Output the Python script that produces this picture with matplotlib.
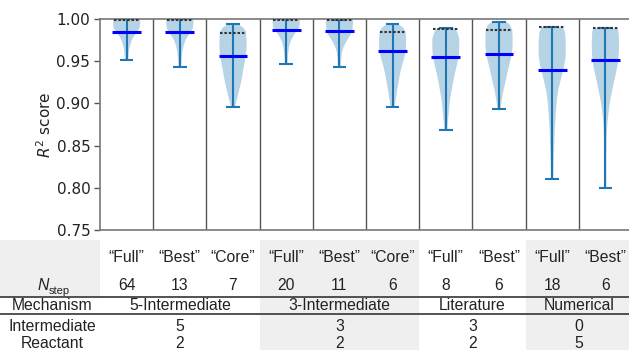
import matplotlib
matplotlib.use("Agg")
import matplotlib.pyplot as plt
from matplotlib.patches import Rectangle
from matplotlib.transforms import blended_transform_factory
import numpy as np

# ---------------- data ----------------
variants = ["\u201cFull\u201d", "\u201cBest\u201d", "\u201cCore\u201d",
            "\u201cFull\u201d", "\u201cBest\u201d", "\u201cCore\u201d",
            "\u201cFull\u201d", "\u201cBest\u201d",
            "\u201cFull\u201d", "\u201cBest\u201d"]
n_step = [64, 13, 7, 20, 11, 6, 8, 6, 18, 6]
mechanisms = ["5-Intermediate", "3-Intermediate", "Literature", "Numerical"]
mech_span = [(1, 3), (4, 6), (7, 8), (9, 10)]
intermediates = [5, 3, 3, 0]
reactants = [2, 2, 2, 5]

r2_mean = [0.985, 0.985, 0.9565, 0.9866, 0.9858, 0.962, 0.9546, 0.9585, 0.940, 0.951]
r2_median = [0.999, 0.999, 0.9834, 0.999, 0.999, 0.9842, 0.9885, 0.9873, 0.9905, 0.9897]
r2_max = [1.0, 0.9995, 0.9937, 0.9995, 0.999, 0.9937, 0.9897, 0.9968, 0.9905, 0.989]
r2_min = [0.951, 0.943, 0.896, 0.9467, 0.943, 0.8954, 0.869, 0.8937, 0.8108, 0.7994]

# violin outline: R2 levels and relative half-widths
profile_r2 = [
    [1.0, 0.995, 0.989, 0.985, 0.981, 0.977, 0.972, 0.968, 0.960, 0.951],
    [1.0, 0.995, 0.989, 0.983, 0.979, 0.975, 0.968, 0.960, 0.950, 0.943],
    [0.9937, 0.990, 0.985, 0.975, 0.965, 0.955, 0.945, 0.935, 0.925, 0.915, 0.905, 0.896],
    [1.0, 0.995, 0.990, 0.985, 0.979, 0.973, 0.967, 0.960, 0.952, 0.9467],
    [0.999, 0.995, 0.988, 0.981, 0.977, 0.973, 0.967, 0.960, 0.950, 0.943],
    [0.9937, 0.990, 0.985, 0.975, 0.965, 0.955, 0.945, 0.935, 0.925, 0.915, 0.905, 0.8954],
    [0.9897, 0.985, 0.977, 0.967, 0.957, 0.947, 0.937, 0.926, 0.916, 0.906, 0.896, 0.886, 0.877, 0.869],
    [0.9968, 0.993, 0.987, 0.977, 0.967, 0.957, 0.947, 0.937, 0.926, 0.916, 0.906, 0.8937],
    [0.9905, 0.985, 0.975, 0.965, 0.955, 0.945, 0.935, 0.925, 0.915, 0.905, 0.89, 0.87, 0.85, 0.83, 0.8108],
    [0.989, 0.985, 0.975, 0.965, 0.955, 0.945, 0.935, 0.925, 0.915, 0.905, 0.895, 0.885, 0.875, 0.86, 0.84, 0.82, 0.7994],
]
profile_density = [
    [12.5, 12.5, 12, 9.5, 7.5, 5.5, 4, 3, 2, 1.5],
    [13, 13, 12.5, 9.5, 7.5, 5.5, 3.5, 2.3, 1.6, 1.3],
    [5, 10, 13, 13.5, 13.5, 12.5, 11, 9.5, 8, 6, 4, 2],
    [13, 13, 12.5, 9.5, 6.5, 4, 2.8, 2, 1.5, 1.3],
    [13, 13, 12.5, 10.5, 8.5, 6.5, 4, 2.3, 1.6, 1.3],
    [6, 10.5, 13.2, 13.7, 13.5, 12, 9.5, 7.5, 6, 4.5, 3.2, 2],
    [8, 11.5, 13.5, 13.7, 13.2, 11.5, 9.5, 7.5, 6, 4.5, 3.5, 2.7, 2, 1.5],
    [7, 11, 13.2, 13.5, 13.5, 12.5, 10.5, 8.5, 6.5, 4.5, 3, 1.5],
    [10.5, 12.8, 13.6, 13.7, 13.5, 12.2, 10, 8, 6, 4.8, 3.7, 2.6, 2, 1.5, 1.2],
    [12.5, 13.3, 13.7, 13.7, 13.3, 12.2, 10.5, 8.5, 6.8, 5, 3.8, 2.7, 1.9, 1.4, 1.1, 1, 1],
]
yticks = [0.75, 0.80, 0.85, 0.90, 0.95, 1.00]

# ---------------- figure ----------------
W, H = 629, 350
fig = plt.figure(figsize=(W / 100, H / 100), dpi=100)
ax = fig.add_axes([100 / W, 1 - 230 / H, 532 / W, 211 / H])
ov = fig.add_axes([0, 0, 1, 1], zorder=-1)
ov.set_xlim(0, W)
ov.set_ylim(H, 0)
ov.axis("off")

positions = np.arange(1, len(variants) + 1)
vpstats = []
for i in range(len(variants)):
    vpstats.append(dict(coords=np.array(profile_r2[i]),
                        vals=np.array(profile_density[i]),
                        mean=r2_mean[i], median=r2_median[i],
                        min=r2_min[i], max=r2_max[i]))
parts = ax.violin(vpstats, positions=positions, widths=0.51,
                  showmeans=False, showextrema=True, showmedians=False)
for b in parts["bodies"]:
    b.set_facecolor("#1f77b4")
    b.set_alpha(0.32)
    b.set_edgecolor("none")
for k in ("cmaxes", "cmins", "cbars"):
    parts[k].set_color("#1f77b4")
    parts[k].set_linewidth(1.5)

ax.hlines(r2_mean, positions - 0.27, positions + 0.27, colors="#0000ff",
          linewidth=2.2, zorder=4)
ax.hlines(r2_median, positions - 0.24, positions + 0.24, colors="#333333",
          linewidth=1.5, linestyles=(0, (1.2, 0.9)), zorder=5)

ax.set_xlim(0.5, len(variants) + 0.5)
ax.set_ylim(0.75, 1.0)
ax.set_xticks([])
ax.set_yticks(yticks)
ax.set_yticklabels([f"{t:.2f}" for t in yticks], fontsize=11, color="#222222")
ax.tick_params(axis="y", length=4, color="#555555", width=1, pad=3)
for x in positions[:-1] + 0.5:
    ax.axvline(x, color="#555555", linewidth=1.0)
for s in ax.spines.values():
    s.set_color("#777777")
    s.set_linewidth(1.2)
ax.set_ylabel("$R^2$ score", fontsize=11, color="#222222", labelpad=2)

# ---------------- table below ----------------
trans = blended_transform_factory(ax.transData, ov.transData)
shade = "#efefef"
ov.add_patch(Rectangle((0, 240), 100, 57, facecolor=shade, edgecolor="none", zorder=0))
for (a, b), m in zip(mech_span, mechanisms):
    if m in ("3-Intermediate", "Numerical"):
        ov.add_patch(Rectangle((a - 0.5, 240), (b - a + 1) + (0.3 if b == 10 else 0), 110,
                               transform=trans, facecolor=shade, edgecolor="none", zorder=0))

ov.plot([0, W], [297, 297], color="#444444", linewidth=1.3, zorder=2)
ov.plot([0, W], [314, 314], color="#444444", linewidth=1.3, zorder=2)

tf = dict(family="Liberation Sans", fontsize=11.3, color="#222222", va="center", ha="center")
for p, v, n in zip(positions, variants, n_step):
    ov.text(p, 257.5, v, transform=trans, **tf)
    ov.text(p, 285.5, str(n), transform=trans, **tf)
for (a, b), m, it, r in zip(mech_span, mechanisms, intermediates, reactants):
    c = (a + b) / 2
    ov.text(c, 306, m, transform=trans, **tf)
    ov.text(c, 326.5, str(it), transform=trans, **tf)
    ov.text(c, 343, str(r), transform=trans, **tf)

ov.text(52, 306, "Mechanism", **tf)
ov.text(52, 326.5, "Intermediate", **tf)
ov.text(52, 343, "Reactant", **tf)
ov.text(49, 285, "N", family="Liberation Sans", fontsize=11.3, style="italic",
        color="#222222", va="center", ha="right")
ov.text(49, 290.5, "step", family="Liberation Sans", fontsize=8,
        color="#222222", va="center", ha="left")

fig.savefig("out.png", dpi=100)
